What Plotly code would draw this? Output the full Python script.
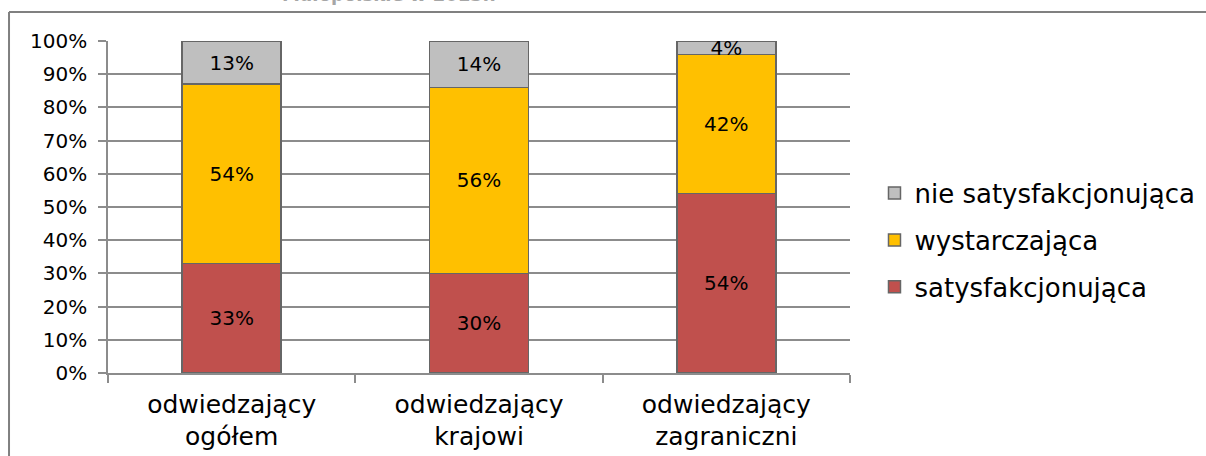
import plotly.graph_objects as go

# --- data ---
categories = ["odwiedzający<br>ogółem", "odwiedzający<br>krajowi", "odwiedzający<br>zagraniczni"]
satysfakcjonujaca = [33, 30, 54]
wystarczajaca = [54, 56, 42]
nie_satysfakcjonujaca = [13, 14, 4]
y_ticks = list(range(0, 101, 10))
y_tick_labels = [f"{v}%" for v in y_ticks]

FONT = "DejaVu Sans"
GRID = "#8c8c8c"
EDGE = "#666666"

# name, values, colour, legend rank (grey on top in the legend)
series = [
    ("satysfakcjonująca", satysfakcjonujaca, "#C0504D", 3),
    ("wystarczająca", wystarczajaca, "#FFC000", 2),
    ("nie satysfakcjonująca", nie_satysfakcjonujaca, "#BFBFBF", 1),
]

fig = go.Figure()
for name, vals, color, rank in series:
    fig.add_trace(go.Bar(
        x=categories, y=vals, name=name, legendgroup=name, legendrank=rank,
        marker=dict(color=color, line=dict(color=EDGE, width=1.5)),
        text=[f"{v}%" for v in vals], textposition="inside",
        insidetextanchor="middle", constraintext="none",
        textfont=dict(family=FONT, size=20, color="black"),
    ))

fig.update_layout(
    barmode="stack", bargap=0.6,
    width=1206, height=456,
    margin=dict(l=108, r=356, t=41, b=83, autoexpand=False),
    paper_bgcolor="white", plot_bgcolor="white",
    font=dict(family=FONT, size=20, color="black"),
    uniformtext=dict(minsize=20, mode="show"),
    legend=dict(
        x=1.033, y=0.40, yanchor="middle", xanchor="left",
        traceorder="grouped", tracegroupgap=10,
        font=dict(family=FONT, size=26, color="black"),
        itemwidth=30,
    ),
    showlegend=True,
)

fig.update_yaxes(
    range=[0, 100], tickvals=y_ticks, ticktext=y_tick_labels,
    showgrid=True, gridcolor=GRID, gridwidth=1.5,
    showline=True, linecolor=GRID, linewidth=1.5,
    ticks="outside", ticklen=8, tickcolor=GRID, tickwidth=1.5,
    tickfont=dict(family=FONT, size=20), zeroline=False,
    ticklabelstandoff=7,
)
fig.update_xaxes(
    showline=True, linecolor=GRID, linewidth=1.5,
    ticks="outside", tickson="boundaries", ticklen=8,
    tickcolor=GRID, tickwidth=1.5,
    tickfont=dict(family=FONT, size=25),
    ticklabelstandoff=8,
)

# outer chart frame (cut off at the right and bottom in the source)
fig.add_shape(type="line", xref="paper", yref="paper",
              x0=-0.1334, x1=1.7, y0=1.087, y1=1.087,
              line=dict(color="#808080", width=2))
fig.add_shape(type="line", xref="paper", yref="paper",
              x0=-0.1334, x1=-0.1334, y0=1.087, y1=-0.3,
              line=dict(color="#808080", width=2))

# title mostly cropped off the top
fig.add_annotation(text="<b>Małopolskie w 2013r.</b>", xref="paper", yref="paper",
                   x=(280 - 108) / 742, y=1.102, yanchor="bottom", showarrow=False,
                   font=dict(family=FONT, size=18, color="#a6a6a6"))

# page body margin would shift the figure by 8px
fig.write_html("out.html", config={"displayModeBar": False},
               post_script="document.body.style.margin='0';")
